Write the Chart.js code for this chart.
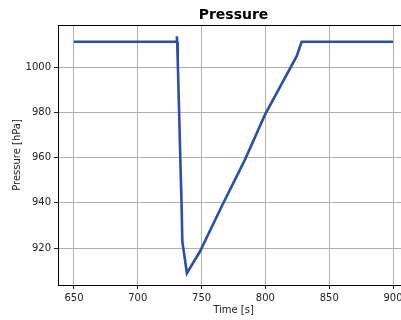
<!DOCTYPE html>
<html>
<head>
<meta charset="utf-8">
<script src="https://cdn.jsdelivr.net/npm/chart.js@4"></script>
<style>
  html, body { margin: 0; padding: 0; background: #fff; overflow: hidden; }
  #wrap { width: 401px; height: 320px; overflow: hidden; }
  canvas { display: block; }
</style>
</head>
<body>
<div id="wrap"><canvas id="chart" width="410" height="320"></canvas></div>
<script>
// time [s] and pressure [hPa]
var timeS = [650, 700, 730.4, 730.7, 730.9, 731.3, 732.4, 733.3, 734.3, 734.9, 738.5,
             748.7, 765.7, 784.0, 799.7, 824.5, 828.4, 860, 900];
var pressureHPa = [1011.2, 1011.2, 1011.2, 1013.6, 1011.0, 1003, 980, 960, 940, 923, 908.9,
                   918.5, 938.4, 959.1, 979.0, 1004.8, 1011.2, 1011.2, 1011.2];
var xTicks = [650, 700, 750, 800, 850, 900];
var yTicks = [920, 940, 960, 980, 1000];

var points = timeS.map(function (t, i) { return { x: t, y: pressureHPa[i] }; });

var framePlugin = {
  id: 'frame',
  afterDraw: function (chart) {
    var a = chart.chartArea, ctx = chart.ctx;
    ctx.save();
    ctx.strokeStyle = '#000';
    ctx.lineWidth = 1;
    ctx.strokeRect(a.left + 0.5, a.top + 0.5, a.right - a.left, a.bottom - a.top);
    ctx.fillStyle = '#000';
    ctx.font = 'bold 14px "DejaVu Sans"';
    ctx.textAlign = 'center';
    ctx.textBaseline = 'middle';
    ctx.fillText('Pressure', (a.left + a.right) / 2, 15);
    ctx.restore();
  }
};

var plain = function (v) { return String(v); };

new Chart(document.getElementById('chart'), {
  type: 'line',
  data: {
    datasets: [{
      data: points,
      borderColor: '#2c4fa6',
      borderWidth: 2.6,
      pointRadius: 0,
      tension: 0,
      fill: false,
    }],
  },
  plugins: [framePlugin],
  options: {
    responsive: false,
    animation: false,
    layout: { padding: { top: 25, right: 1, left: 0, bottom: 0 } },
    plugins: { legend: { display: false }, tooltip: { enabled: false } },
    scales: {
      x: {
        type: 'linear',
        min: 637.5,
        max: 912.5,
        afterBuildTicks: function (s) { s.ticks = xTicks.map(function (v) { return { value: v }; }); },
        afterFit: function (s) { s.height = 35; },
        grid: { color: '#b0b0b0', lineWidth: 1, tickColor: '#222', tickLength: 4 },
        border: { display: true, color: '#000' },
        ticks: { color: '#222', font: { family: 'DejaVu Sans', size: 10 }, padding: 3, maxRotation: 0, callback: plain },
        title: { display: true, text: 'Time [s]', color: '#222', font: { family: 'DejaVu Sans', size: 10 }, padding: { top: 0, bottom: 4 } },
      },
      y: {
        type: 'linear',
        min: 903.7,
        max: 1018.6,
        afterBuildTicks: function (s) { s.ticks = yTicks.map(function (v) { return { value: v }; }); },
        afterFit: function (s) { s.width = 58; },
        grid: { color: '#b0b0b0', lineWidth: 1, tickColor: '#222', tickLength: 4 },
        border: { display: true, color: '#000' },
        ticks: { color: '#222', font: { family: 'DejaVu Sans', size: 10 }, padding: 3, callback: plain },
        title: { display: true, text: 'Pressure [hPa]', color: '#222', font: { family: 'DejaVu Sans', size: 10 }, padding: { top: 11, bottom: 0 } },
      },
    },
  },
});
</script>
</body>
</html>
